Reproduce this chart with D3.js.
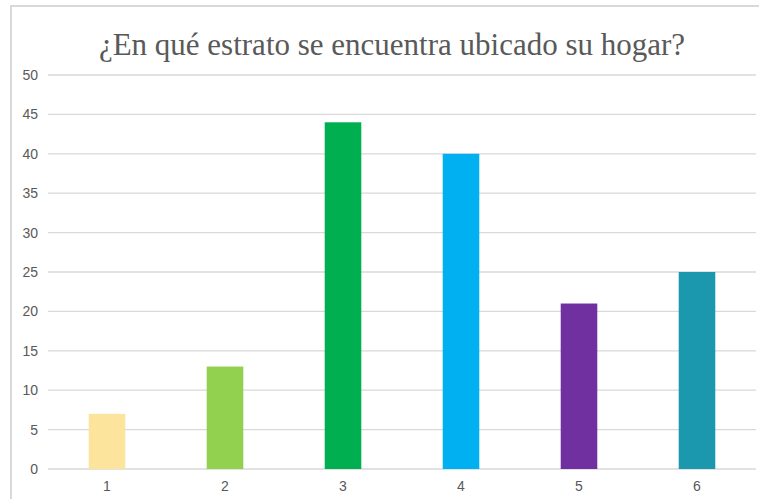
<!DOCTYPE html>
<html><head><meta charset="utf-8">
<script src="https://cdn.jsdelivr.net/npm/d3@7"></script>
<style>html,body{margin:0;padding:0;background:#fff;}svg{display:block;}</style>
</head><body>
<svg id="c" width="759" height="499"></svg>
<script>
const categories = ["1","2","3","4","5","6"];
const values = [7, 13, 44, 40, 21, 25];
const colors = ["#FCE49C","#92D050","#00B050","#00B0F0","#7030A0","#1B98AE"];
const yTicks = [0,5,10,15,20,25,30,35,40,45,50];
const title = "¿En qué estrato se encuentra ubicado su hogar?";

const svg = d3.select("#c");
// frame
svg.append("path").attr("d","M11,499 V6 H759").attr("fill","none").attr("stroke","#D9D9D9").attr("stroke-width",2);

const x = d3.scaleBand().domain(categories).range([48,756]).paddingInner(0.69).paddingOuter(0.345);
const y = d3.scaleLinear().domain([0,50]).range([469,75]);

// grid
svg.append("g").selectAll("line").data(yTicks).join("line")
  .attr("x1",48).attr("x2",756)
  .attr("y1",d=>y(d)).attr("y2",d=>y(d))
  .attr("stroke","#D9D9D9").attr("stroke-width",1.3);

// bars
svg.append("g").selectAll("rect").data(values).join("rect")
  .attr("x",(d,i)=>x(categories[i]))
  .attr("width",x.bandwidth())
  .attr("y",d=>y(d))
  .attr("height",d=>y(0)-y(d))
  .attr("fill",(d,i)=>colors[i]);

// y axis
const ya = svg.append("g").attr("transform","translate(38,0)")
  .call(d3.axisLeft(y).tickValues(yTicks).tickSize(0).tickPadding(0));
ya.select(".domain").remove();
ya.selectAll("text").attr("font-family","'Liberation Sans', Arial, sans-serif").attr("font-size",14).attr("fill","#595959");

// x axis
const xa = svg.append("g").attr("transform","translate(0,481)")
  .call(d3.axisBottom(x).tickSize(0).tickPadding(0));
xa.select(".domain").remove();
xa.selectAll("text").attr("font-family","'Liberation Sans', Arial, sans-serif").attr("font-size",14).attr("fill","#595959");

// title
svg.append("text").attr("x",392).attr("y",55).attr("text-anchor","middle")
  .attr("font-family","'Liberation Serif', 'Times New Roman', serif").attr("font-size",31)
  .attr("fill","#595959").text(title);
</script>
</body></html>
